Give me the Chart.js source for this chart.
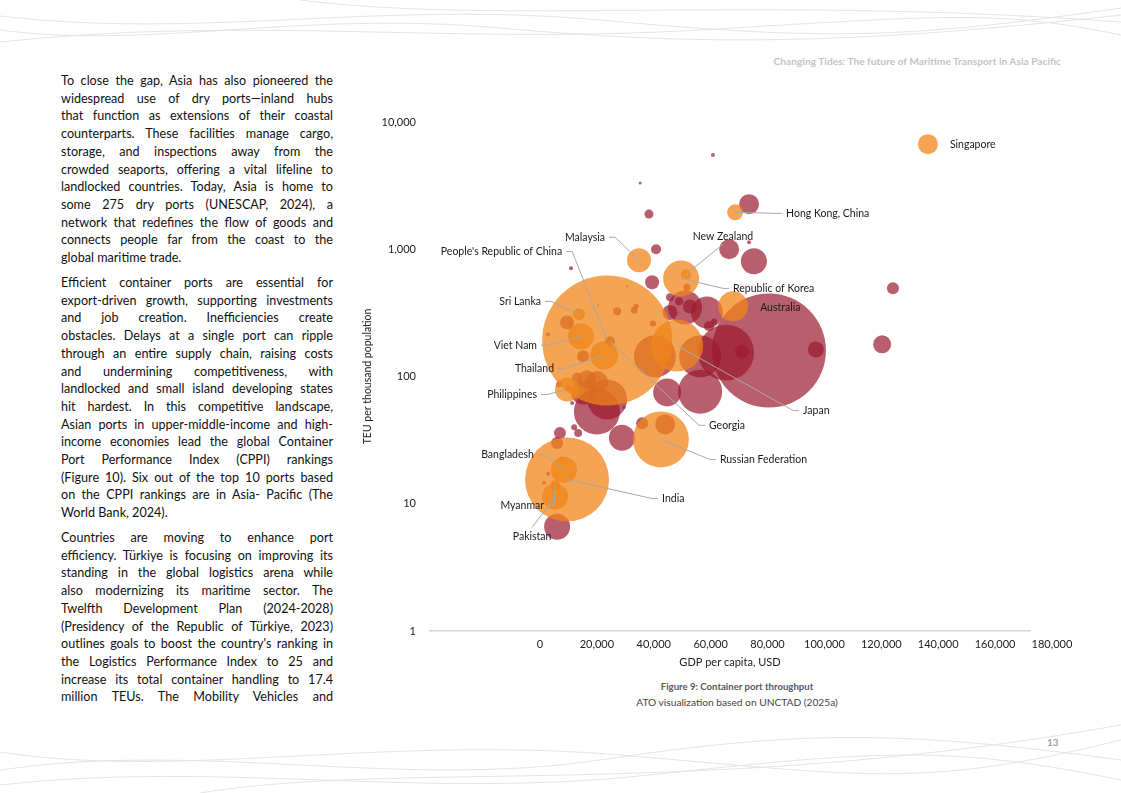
<!DOCTYPE html>
<html>
<head>
<meta charset="utf-8">
<script src="https://cdn.jsdelivr.net/npm/chart.js@4.4.1/dist/chart.umd.min.js"></script>
<style>
  html, body { margin: 0; padding: 0; background: #fff; }
  body { width: 1121px; height: 793px; position: relative; overflow: hidden; font-family: Lato, 'Open Sans', sans-serif; }
  #waves { position: absolute; left: 0; top: 0; }
  .header { position: absolute; right: 60px; top: 55px; font-size: 10.2px; font-weight: bold; color: #c4c4c4; }
  .para { position: absolute; left: 61px; width: 272px; font-size: 12.6px; line-height: 17.7px; color: #111; }
  .para span { display: block; text-align: justify; text-align-last: justify; white-space: nowrap; }
  .para span.last { text-align-last: left; }
  #chartBox { position: absolute; left: 355px; top: 100px; width: 730px; height: 580px; }
  .caption { position: absolute; left: 560px; width: 354px; text-align: center; color: #444; }
  .cap1 { top: 681px; font-size: 9.6px; font-weight: bold; color: #595959; }
  .cap2 { top: 696px; font-size: 10.2px; }
  .pageno { position: absolute; left: 1047px; top: 736px; font-size: 10px; font-weight: bold; color: #a0a0a0; }
</style>
</head>
<body>
<svg id="waves" width="1121" height="793">
  <g fill="none" stroke="#e4e4e4" stroke-width="1">
    <path d="M0,30 C150,50 300,10 500,28 S850,45 1121,15"/>
    <path d="M0,16 C200,40 380,0 600,20 S900,40 1121,8"/>
    <path d="M0,42 C250,15 450,45 700,30 S1000,10 1121,35"/>
    <path d="M300,0 C500,25 750,-5 1121,22"/>
    <path d="M0,770 C200,740 400,790 600,760 S900,730 1121,760"/>
    <path d="M0,785 C220,760 420,800 650,775 S950,745 1121,780"/>
    <path d="M0,752 C180,780 380,735 620,755 S920,790 1121,740"/>
    <path d="M200,793 C400,760 700,800 1121,725"/>
  </g>
</svg>

<div class="header">Changing Tides: The future of Maritime Transport in Asia Pacific</div>

<div class="para" style="top:72px">
  <span>To close the gap, Asia has also pioneered the</span>
  <span>widespread use of dry ports—inland hubs</span>
  <span>that function as extensions of their coastal</span>
  <span>counterparts. These facilities manage cargo,</span>
  <span>storage, and inspections away from the</span>
  <span>crowded seaports, offering a vital lifeline to</span>
  <span>landlocked countries. Today, Asia is home to</span>
  <span>some 275 dry ports (UNESCAP, 2024), a</span>
  <span>network that redefines the flow of goods and</span>
  <span>connects people far from the coast to the</span>
  <span class="last">global maritime trade.</span>
</div>

<div class="para" style="top:274px">
  <span>Efficient container ports are essential for</span>
  <span>export-driven growth, supporting investments</span>
  <span>and job creation. Inefficiencies create</span>
  <span>obstacles. Delays at a single port can ripple</span>
  <span>through an entire supply chain, raising costs</span>
  <span>and undermining competitiveness, with</span>
  <span>landlocked and small island developing states</span>
  <span>hit hardest. In this competitive landscape,</span>
  <span>Asian ports in upper-middle-income and high-</span>
  <span>income economies lead the global Container</span>
  <span>Port Performance Index (CPPI) rankings</span>
  <span>(Figure 10). Six out of the top 10 ports based</span>
  <span>on the CPPI rankings are in Asia- Pacific (The</span>
  <span class="last">World Bank, 2024).</span>
</div>

<div class="para" style="top:529px">
  <span>Countries are moving to enhance port</span>
  <span>efficiency. Türkiye is focusing on improving its</span>
  <span>standing in the global logistics arena while</span>
  <span>also modernizing its maritime sector. The</span>
  <span>Twelfth Development Plan (2024-2028)</span>
  <span>(Presidency of the Republic of Türkiye, 2023)</span>
  <span>outlines goals to boost the country's ranking in</span>
  <span>the Logistics Performance Index to 25 and</span>
  <span>increase its total container handling to 17.4</span>
  <span>million TEUs. The Mobility Vehicles and</span>
</div>

<div id="chartBox"><canvas id="bubbles" width="730" height="580"></canvas></div>

<div class="caption cap1">Figure 9: Container port throughput</div>
<div class="caption cap2">ATO visualization based on UNCTAD (2025a)</div>
<div class="pageno">13</div>

<script>
// Asia-Pacific economies (orange)
const apNames = ['Singapore', 'Hong Kong, China', 'Republic of Korea', 'New Zealand', 'Australia', 'Malaysia',
  "People's Republic of China", 'Sri Lanka', 'Viet Nam', 'Thailand', 'Philippines', 'Japan',
  'Russian Federation', 'Bangladesh', 'India', 'Myanmar', 'Pakistan'];
const apGdp = [136400, 68600, 49600, 51300, 67900, 34800, 23600, 13700, 14400, 22500, 9500, 48200,
  42500, 8400, 9500, 5300, 5300];
const apTeu = [6700, 1950, 590, 635, 356, 820, 192, 308, 207, 146, 79, 175, 32, 18.5, 15.5, 13.9, 11.4];
const apSize = [11.1, 7.1, 36, 2.8, 25, 16, 469, 4, 18.8, 21.8, 16, 75, 87, 18.8, 196, 2.8, 18.8];

// other economies (dark red), only Georgia is labelled
const otherNames = ['Georgia'];
const otherGdp = [24600, 60800, 35200, 38300, 73500, 40800, 66500, 75200, 73500, 10900,
  39400, 51700, 30600, 124100, 120300, 97000, 80500, 71000, 65400, 56300,
  56300, 40400, 44700, 51000, 58700, 45700, 48900, 45700, 52700, 61200,
  59400, 44000, 45000, 39700, 33100, 33800, 44000, 35900, 28800, 9500,
  2800, 15100, 27100, 20400, 13000, 16500, 20000, 15100, 23600, 20000,
  9800, 6700, 11300, 29500, 7000, 12000, 13400, 6000, 7700, 2800,
  1400, 6000];
const otherTeu = [189, 5500, 3310, 1890, 2260, 1000, 1000, 805, 1135, 708,
  550, 502, 511, 493, 179, 163, 160, 157, 154, 144,
  76, 144, 75, 349, 319, 319, 390, 419, 355, 271,
  248, 129, 169, 261, 331, 356, 42, 43, 33, 266,
  214, 144, 325, 362, 98, 95, 90, 75, 66, 53,
  81, 87, 62, 57, 36, 40, 36, 30, 22.6, 17.2,
  14.6, 6.6];
const otherSize = [2.8, 0.44, 0.25, 2.25, 11.1, 2.8, 11.1, 18.8, 0.44, 0.44,
  5.4, 1.36, 0.11, 4, 9, 7.1, 361, 5.4, 87, 49,
  53.8, 49, 21.8, 32.1, 28.4, 6.25, 1.78, 1.78, 5.4, 1,
  2.8, 2.25, 0.69, 1, 1.36, 0.69, 11.1, 4, 18.8, 5.4,
  0.44, 4, 1.78, 0.11, 2.8, 9, 13.4, 16, 44.4, 58.8,
  1, 1, 0.44, 0.25, 4, 1, 1.78, 4, 0.44, 0.44,
  0.44, 18.8];

const xTicks = [0, 20000, 40000, 60000, 80000, 100000, 120000, 140000, 160000, 180000];
const yTicks = [1, 10, 100, 1000, 10000];

// where each country label sits relative to its bubble
const callouts = {
  'Singapore': { dx: 22, dy: 0, align: 'left', line: false },
  'Hong Kong, China': { dx: 51, dy: 1, align: 'left', line: true },
  'New Zealand': { dx: 37, dy: -38, align: 'center', line: true, ly: 8 },
  'Republic of Korea': { dx: 52, dy: 10, align: 'left', line: true },
  'Australia': { dx: 27, dy: 1, align: 'left', line: false },
  'Malaysia': { dx: -34, dy: -23, align: 'right', line: true },
  "People's Republic of China": { dx: -45, dy: -89, align: 'right', line: true },
  'Sri Lanka': { dx: -38, dy: -13, align: 'right', line: true },
  'Viet Nam': { dx: -44, dy: 9, align: 'right', line: true },
  'Thailand': { dx: -50, dy: 13, align: 'right', line: true },
  'Philippines': { dx: -30, dy: 5, align: 'right', line: true },
  'Georgia': { dx: 99, dy: 84, align: 'left', line: true },
  'Japan': { dx: 126, dy: 65, align: 'left', line: true },
  'Russian Federation': { dx: 59, dy: 20, align: 'left', line: true },
  'Bangladesh': { dx: -30, dy: -15, align: 'right', line: true },
  'India': { dx: 95, dy: 19, align: 'left', line: true },
  'Myanmar': { dx: -11, dy: 20, align: 'right', line: true },
  'Pakistan': { dx: -23, dy: 40, align: 'center', line: true, ly: -9 }
};

const radius = s => 3 * Math.sqrt(s);

function points(names, gdp, teu, size) {
  return gdp.map((g, i) => ({ x: g, y: teu[i], r: radius(size[i]), name: names[i] }));
}

const calloutPlugin = {
  id: 'callouts',
  afterDatasetsDraw(chart) {
    const ctx = chart.ctx;
    ctx.save();
    ctx.font = '10.5px Lato, sans-serif';
    ctx.textBaseline = 'middle';
    chart.data.datasets.forEach((ds, di) => {
      const meta = chart.getDatasetMeta(di);
      ds.data.forEach((pt, i) => {
        const spec = callouts[pt.name];
        if (!spec) return;
        const el = meta.data[i];
        const tx = el.x + spec.dx;
        const ty = el.y + spec.dy;
        if (spec.line) {
          ctx.strokeStyle = '#a8a8a8';
          ctx.lineWidth = 1;
          ctx.beginPath();
          ctx.moveTo(el.x, el.y);
          if (spec.align === 'left') {
            ctx.lineTo(tx - 10, ty);
            ctx.lineTo(tx - 4, ty);
          } else if (spec.align === 'right') {
            ctx.lineTo(tx + 10, ty);
            ctx.lineTo(tx + 4, ty);
          } else {
            ctx.lineTo(tx, ty + spec.ly);
          }
          ctx.stroke();
        }
        ctx.fillStyle = '#1a1a1a';
        ctx.textAlign = spec.align;
        ctx.fillText(pt.name, tx, ty);
      });
    });
    ctx.restore();
  }
};

new Chart(document.getElementById('bubbles'), {
  type: 'bubble',
  data: {
    datasets: [
      {
        label: 'Asia-Pacific',
        data: points(apNames, apGdp, apTeu, apSize),
        backgroundColor: 'rgba(240, 133, 25, 0.75)',
        borderWidth: 0,
        clip: false
      },
      {
        label: 'Other economies',
        data: points(otherNames, otherGdp, otherTeu, otherSize),
        backgroundColor: 'rgba(155, 25, 45, 0.7)',
        borderWidth: 0,
        clip: false
      }
    ]
  },
  options: {
    responsive: false,
    animation: false,
    layout: { autoPadding: false, padding: { top: 22, right: 55, left: 0, bottom: 0 } },
    plugins: { legend: { display: false }, tooltip: { enabled: false } },
    scales: {
      x: {
        type: 'linear',
        min: -38700,
        max: 172300,
        afterBuildTicks: scale => { scale.ticks = xTicks.map(v => ({ value: v })); },
        afterFit: scale => { scale.height = 49; },
        grid: { display: false, drawTicks: false },
        border: { display: true, color: '#d4d4d4', width: 1.5 },
        ticks: {
          autoSkip: false, maxRotation: 0, minRotation: 0, padding: 7,
          color: '#222', font: { family: 'Lato', size: 11 },
          callback: v => v.toLocaleString('en-US')
        },
        title: {
          display: true, text: 'GDP per capita, USD', color: '#222',
          font: { family: 'Lato', size: 11 }, padding: { top: 4, bottom: 10.5 }
        }
      },
      y: {
        type: 'logarithmic',
        min: 1,
        max: 10000,
        afterBuildTicks: scale => { scale.ticks = yTicks.map(v => ({ value: v })); },
        afterFit: scale => { scale.width = 75; },
        grid: { display: false, drawTicks: false },
        border: { display: false },
        ticks: {
          padding: 14, color: '#222', font: { family: 'Lato', size: 11 },
          callback: v => v.toLocaleString('en-US')
        },
        title: {
          display: true, text: 'TEU per thousand population', color: '#222',
          font: { family: 'Lato', size: 10.5 }, padding: { top: 6, bottom: 0 }
        }
      }
    }
  },
  plugins: [calloutPlugin]
});
</script>
</body>
</html>
